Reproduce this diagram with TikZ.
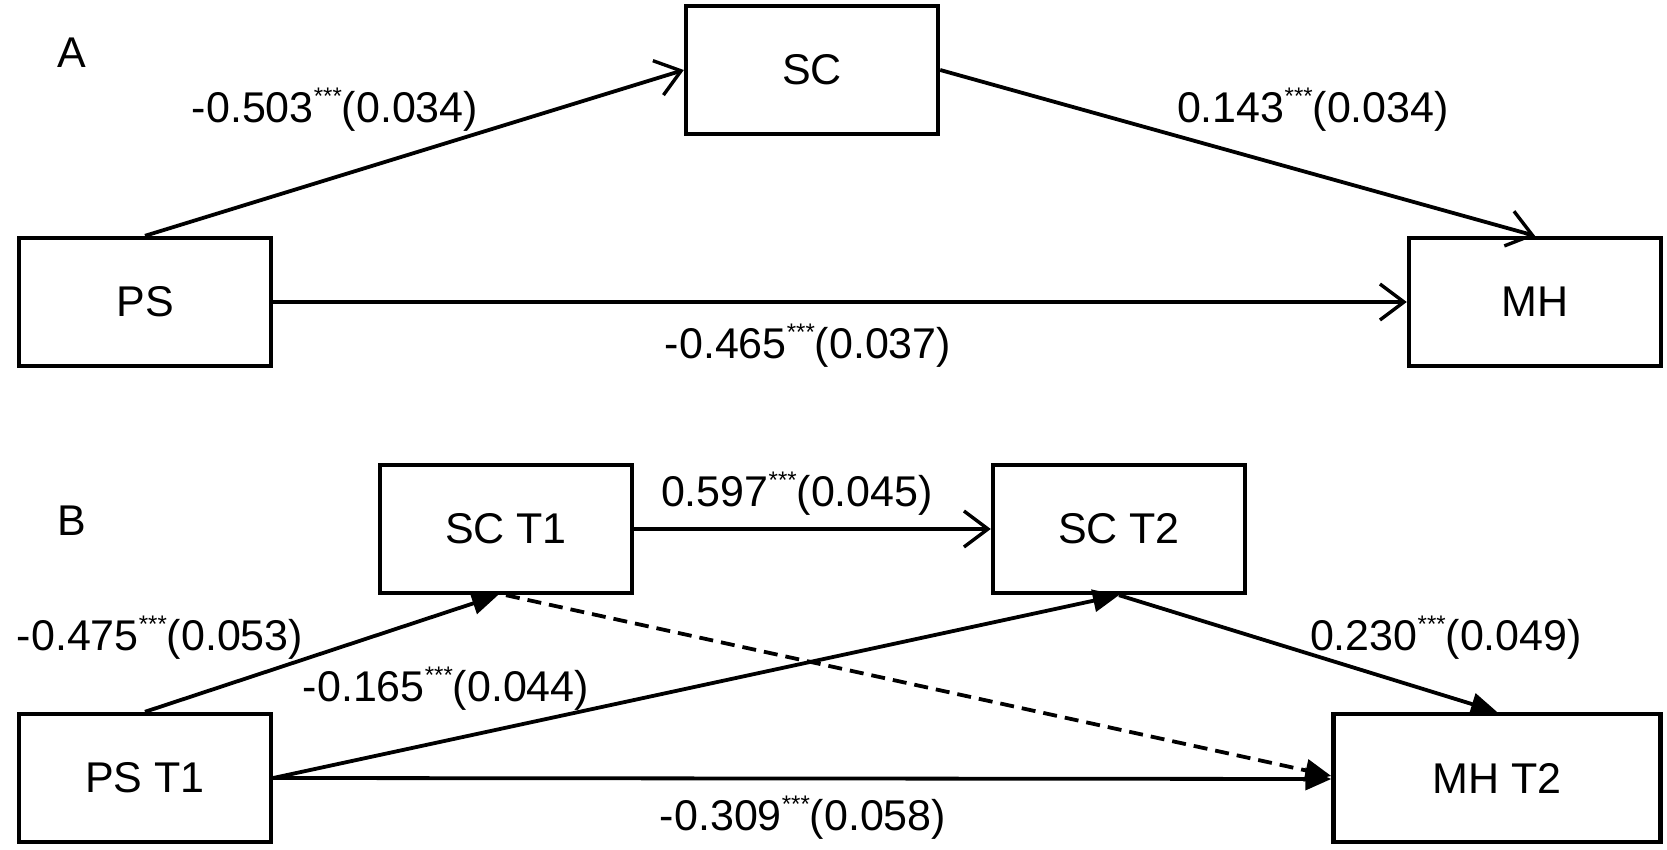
\documentclass[tikz,border=0pt]{standalone}
\usepackage{fontspec}
\setmainfont{Liberation Sans}
\usetikzlibrary{arrows.meta}
\newcommand{\sstars}{\raisebox{0.42em}{\fontsize{12}{12}\selectfont ***}}
\tikzset{
  box/.style={draw, line width=2.2pt, minimum width=126pt, minimum height=64pt, inner sep=0pt, font=\fontsize{21.5}{25}\selectfont},
  lbl/.style={inner sep=0pt, font=\fontsize{21.5}{25}\selectfont},
  conn/.style={line width=1.9pt},
  openhead/.style={conn, -{Straight Barb[length=12pt,width=18pt,line width=1.7pt]}},
  fillhead/.style={conn, -{Triangle[length=13pt,width=11pt]}},
  dashedconn/.style={fillhead, dash pattern=on 7pt off 4pt}
}
\begin{document}
\begin{tikzpicture}[x=0.5pt,y=-0.5pt]
\useasboundingbox (0,0) rectangle (1667,850);
% Panel A
\node[lbl] (labA) at (72,53) {A};
\node[box] (sc) at (812,70) {SC};
\node[box] (ps) at (145,302) {PS};
\node[box] (mh) at (1535,302) {MH};
\draw[openhead] (ps.north) -- (sc.west);
\draw[openhead] (sc.east) -- (mh.north);
\draw[openhead] (ps.east) -- (mh.west);
\node[lbl] (l1) at (335,110) {-0.503\sstars(0.034)};
\node[lbl] (l2) at (1313,110) {0.143\sstars(0.034)};
\node[lbl] (l3) at (808,346) {-0.465\sstars(0.037)};
% Panel B
\node[lbl] (labB) at (72,521) {B};
\node[box] (sct1) at (506,529) {SC T1};
\node[box] (sct2) at (1119,529) {SC T2};
\node[box] (pst1) at (145,778) {PS T1};
\node[box, minimum width=163.5pt] (mht2) at (1497,778) {MH T2};
\draw[openhead] (sct1.east) -- (sct2.west);
\draw[fillhead] (pst1.north) -- ([xshift=-4pt]sct1.south);
\draw[fillhead] (pst1.east) -- (sct2.south);
\draw[fillhead] (sct2.south) -- (mht2.north);
\draw[dashedconn] (sct1.south) -- ([yshift=1pt]mht2.west);
\draw[fillhead] (pst1.east) -- ([yshift=-0.5pt]mht2.west);
\node[lbl] (l4) at (797,494) {0.597\sstars(0.045)};
\node[lbl] (l5) at (160,638) {-0.475\sstars(0.053)};
\node[lbl] (l6) at (446,689) {-0.165\sstars(0.044)};
\node[lbl] (l7) at (1446,638) {0.230\sstars(0.049)};
\node[lbl] (l8) at (803,818) {-0.309\sstars(0.058)};
\end{tikzpicture}
\end{document}
